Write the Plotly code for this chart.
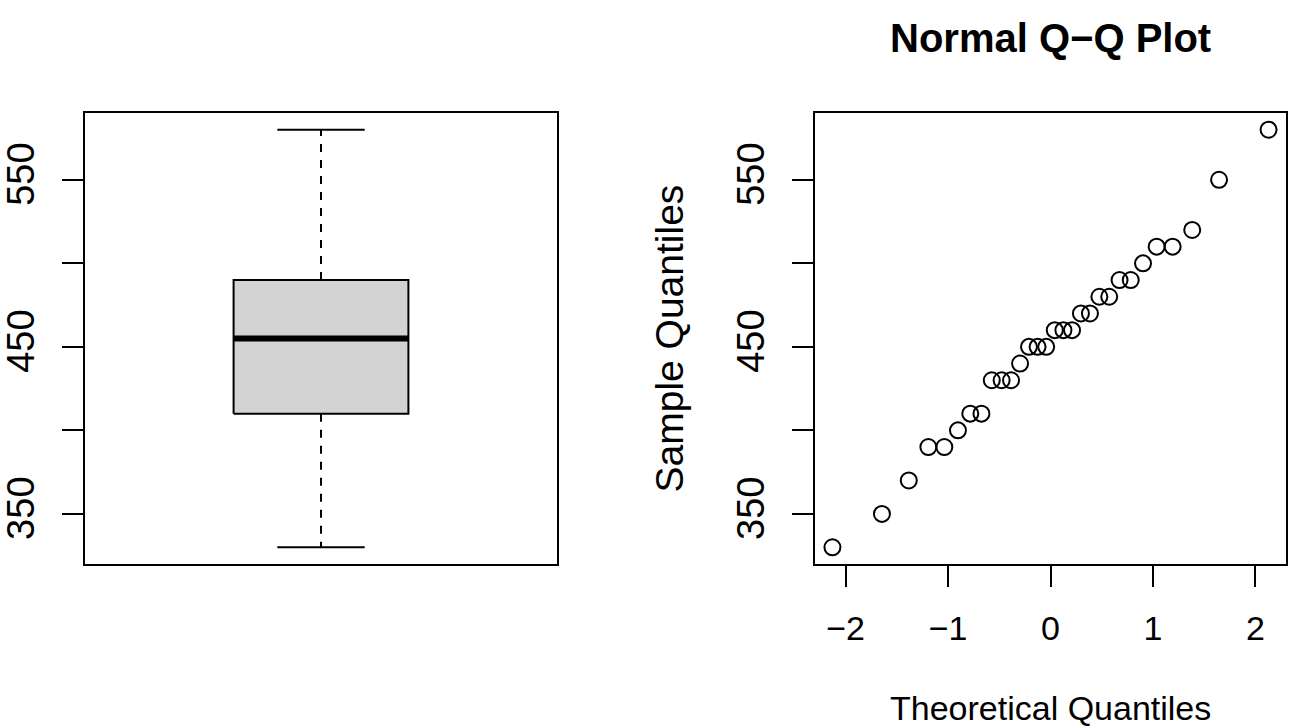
import numpy as np
import plotly.graph_objects as go

# ---- data ----
sample_values = [330, 350, 370, 390, 390, 400, 410, 410, 430, 430,
                 430, 440, 450, 450, 450, 460, 460, 460, 470, 470,
                 480, 480, 490, 490, 500, 510, 510, 520, 550, 580]
theoretical_q = [-2.128, -1.645, -1.383, -1.192, -1.036, -0.903, -0.783, -0.674, -0.573, -0.477,
                 -0.385, -0.297, -0.210, -0.126, -0.042, 0.042, 0.126, 0.210, 0.297, 0.385,
                 0.477, 0.573, 0.674, 0.783, 0.903, 1.036, 1.192, 1.383, 1.645, 2.128]
y_tickvals = [350, 400, 450, 500, 550]
y_ticktext = ["350", "", "450", "", "550"]
x_tickvals = [-2, -1, 0, 1, 2]
title_text = "Normal Q\u2212Q Plot"
xlab_text = "Theoretical Quantiles"
ylab_text = "Sample Quantiles"


def fivenum(v):
    v = np.sort(np.asarray(v, dtype=float))
    n = len(v)
    n4 = np.floor((n + 3) / 2) / 2
    d = np.array([1, n4, (n + 1) / 2, n + 1 - n4, n]) - 1
    return 0.5 * (v[np.floor(d).astype(int)] + v[np.ceil(d).astype(int)])


lo, q1, med, q3, hi = fivenum(sample_values)
ymin, ymax = min(sample_values), max(sample_values)
ypad = 0.04 * (ymax - ymin)
yrange = [ymin - ypad, ymax + ypad]
xq_pad = 0.04 * (theoretical_q[-1] - theoretical_q[0])
xrange2 = [theoretical_q[0] - xq_pad, theoretical_q[-1] + xq_pad]

FONT = "Liberation Sans, Arial, Helvetica, sans-serif"
BLACK = "#000000"
cx, hw, cw = 1.0, 0.2, 0.1

fig = go.Figure()

# box body
fig.add_trace(go.Scatter(
    x=[cx - hw, cx + hw, cx + hw, cx - hw, cx - hw],
    y=[q1, q1, q3, q3, q1], mode="lines", fill="toself",
    fillcolor="#D3D3D3", line=dict(color=BLACK, width=2),
    xaxis="x", yaxis="y", showlegend=False, hoverinfo="skip"))
# whiskers (dashed)
fig.add_trace(go.Scatter(x=[cx, cx], y=[q3, hi], mode="lines",
                         line=dict(color=BLACK, width=2, dash="8px,8px"),
                         xaxis="x", yaxis="y", showlegend=False))
fig.add_trace(go.Scatter(x=[cx, cx], y=[q1, lo], mode="lines",
                         line=dict(color=BLACK, width=2, dash="8px,8px"),
                         xaxis="x", yaxis="y", showlegend=False))
# staples
for v in (lo, hi):
    fig.add_trace(go.Scatter(x=[cx - cw, cx + cw], y=[v, v], mode="lines",
                             line=dict(color=BLACK, width=2),
                             xaxis="x", yaxis="y", showlegend=False))
# median
fig.add_trace(go.Scatter(x=[cx - hw, cx + hw], y=[med, med], mode="lines",
                         line=dict(color=BLACK, width=6),
                         xaxis="x", yaxis="y", showlegend=False))

# QQ points
fig.add_trace(go.Scatter(x=theoretical_q, y=sorted(sample_values), mode="markers",
                         marker=dict(symbol="circle-open", size=16,
                                     line=dict(color=BLACK, width=2), color=BLACK),
                         xaxis="x2", yaxis="y2", showlegend=False))

W, H = 1289, 726
yaxis_common = dict(range=yrange, tickvals=y_tickvals, ticktext=y_ticktext,
                    ticks="outside", ticklen=21, tickwidth=2, tickcolor=BLACK,
                    showline=True, linecolor=BLACK, linewidth=2, mirror=True,
                    showgrid=False, zeroline=False, tickangle=-90,
                    ticklabelstandoff=13,
                    tickfont=dict(family=FONT, size=38, color=BLACK))

fig.update_layout(
    width=W, height=H, margin=dict(l=0, r=0, t=0, b=0),
    paper_bgcolor="white", plot_bgcolor="white",
    xaxis=dict(domain=[85 / W, 557 / W], range=[0.46, 1.54], showticklabels=False,
               ticks="", showline=True, linecolor=BLACK, linewidth=2, mirror=True,
               showgrid=False, zeroline=False, anchor="y"),
    yaxis=dict(domain=[(H - 564) / H, (H - 113) / H], anchor="x", **yaxis_common),
    xaxis2=dict(domain=[815 / W, 1286 / W], range=xrange2, tickvals=x_tickvals,
                ticks="outside", ticklen=21, tickwidth=2, tickcolor=BLACK,
                showline=True, linecolor=BLACK, linewidth=2, mirror=True,
                showgrid=False, zeroline=False, anchor="y2",
                ticklabelstandoff=12,
                tickfont=dict(family=FONT, size=34, color=BLACK)),
    yaxis2=dict(domain=[(H - 564) / H, (H - 113) / H], anchor="x2", **yaxis_common),
    annotations=[
        dict(text="<b>" + title_text + "</b>", x=(815 + 1286) / 2 / W, y=1 - 38 / H,
             xref="paper", yref="paper", xanchor="center", yanchor="middle",
             showarrow=False, font=dict(family=FONT, size=40, color=BLACK)),
        dict(text=xlab_text, x=(815 + 1286) / 2 / W, y=1 - 708 / H,
             xref="paper", yref="paper", xanchor="center", yanchor="middle",
             showarrow=False, font=dict(family=FONT, size=34, color=BLACK)),
        dict(text=ylab_text, x=669 / W, y=1 - 338.5 / H, textangle=-90,
             xref="paper", yref="paper", xanchor="center", yanchor="middle",
             showarrow=False, font=dict(family=FONT, size=39, color=BLACK)),
    ],
)

fig.write_html("out.html", config={"displayModeBar": False},
               post_script="document.body.style.margin='0';document.body.style.overflow='hidden';")
